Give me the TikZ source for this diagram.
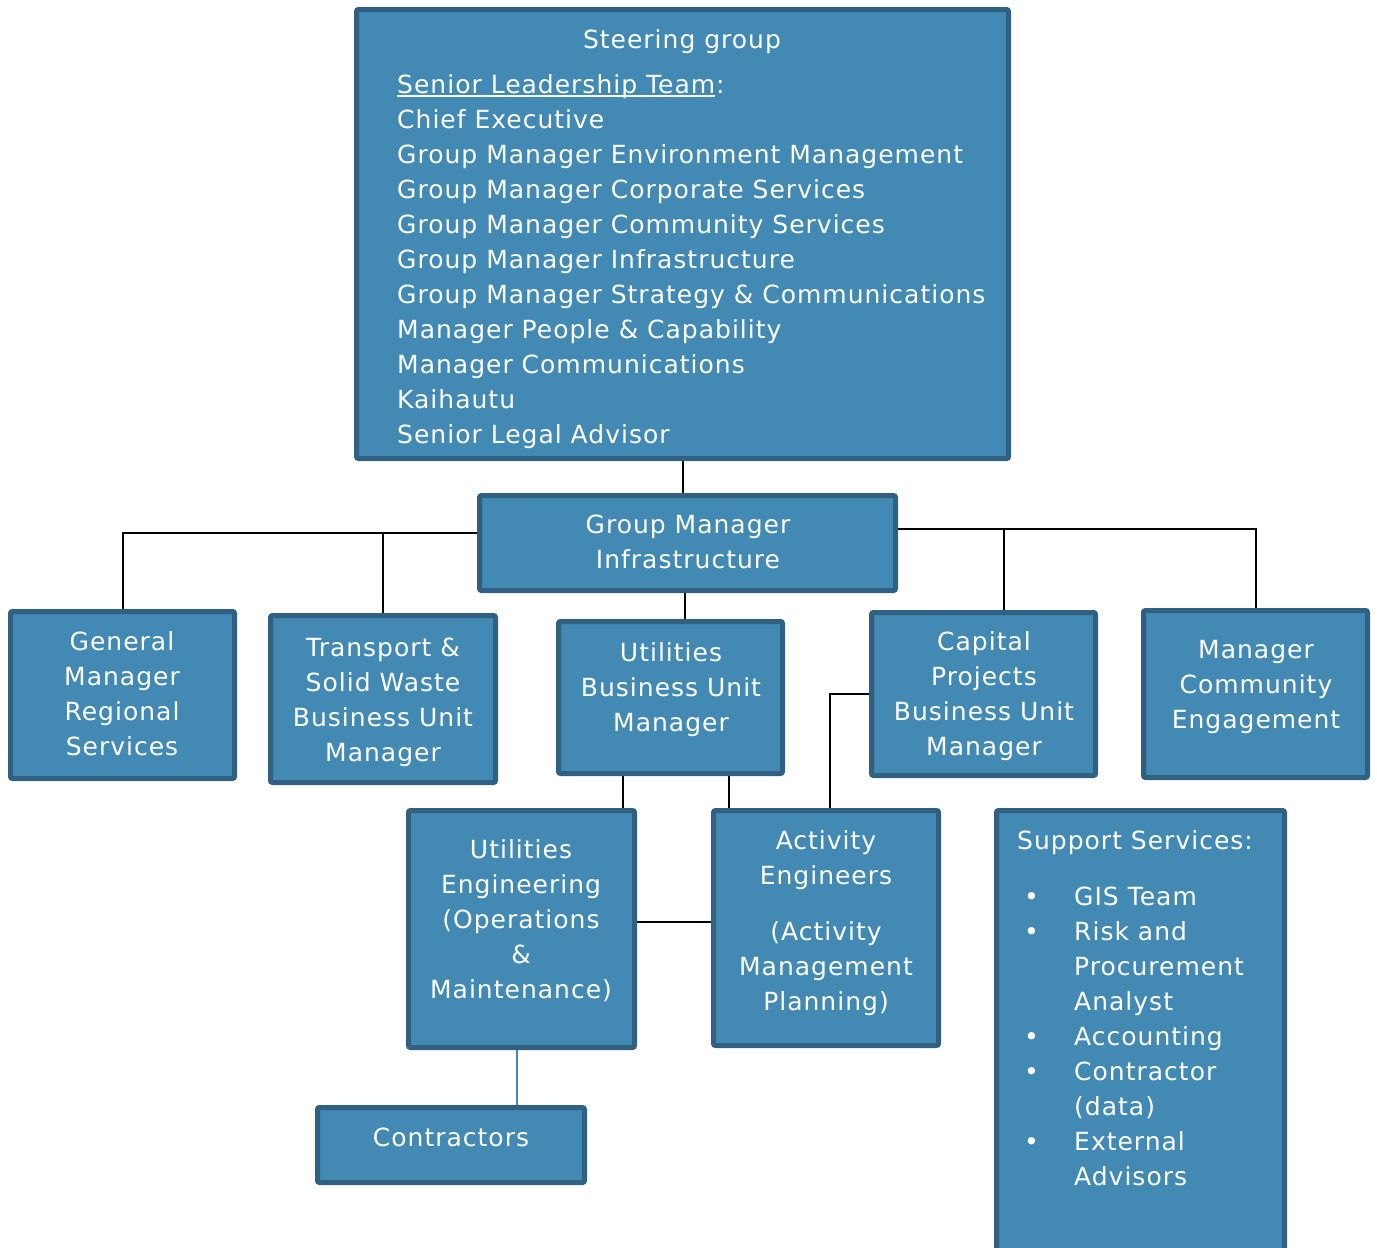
\documentclass[tikz,border=0pt]{standalone}
\usepackage{fontspec}
\setmainfont{DejaVu Sans}[LetterSpace=4]
\usetikzlibrary{calc}
\definecolor{boxfill}{RGB}{66,137,180}
\definecolor{boxline}{RGB}{49,97,130}
\newcommand{\bitem}[1]{\strut\makebox[50pt][l]{•}#1}
\newcommand{\bcont}[1]{\strut\hspace*{50pt}#1}
\newlength{\ulw}
\newcommand{\myul}[1]{\settowidth{\ulw}{#1}\rlap{\rule[-4pt]{\ulw}{2pt}}#1}
\begin{document}
\begin{tikzpicture}[x=1pt,y=-1pt,
  box/.style={draw=boxline, fill=boxfill, line width=5pt, rounded corners=2pt, inner sep=0pt},
  txt/.style={text=white, inner sep=0pt, font=\fontsize{25}{35}\selectfont},
  conn/.style={draw=black, line width=2pt}]
\clip (0,0) rectangle (1377,1248);
\fill[white] (0,0) rectangle (1377,1248);
% boxes
\node[box, minimum width=652pt, minimum height=449pt] (steer) at (682.5,234) {};
\node[box, minimum width=416pt, minimum height=95pt] (gmi) at (687.5,543) {};
\node[box, minimum width=224pt, minimum height=167pt] (gmrs) at (122.5,695) {};
\node[box, minimum width=225pt, minimum height=167pt] (trans) at (383,699) {};
\node[box, minimum width=224pt, minimum height=152pt] (ubum) at (670.5,697.5) {};
\node[box, minimum width=224pt, minimum height=163pt] (cap) at (983.5,694) {};
\node[box, minimum width=224pt, minimum height=167pt] (mce) at (1255.5,694) {};
\node[box, minimum width=226pt, minimum height=237pt] (ue) at (521.5,929) {};
\node[box, minimum width=225pt, minimum height=235pt] (ae) at (826,928) {};
\node[box, minimum width=288pt, minimum height=457pt] (sup) at (1140.5,1039) {};
\node[box, minimum width=267pt, minimum height=75pt] (contr) at (451,1145) {};
% texts
\node[txt] (steert) at (682,41) {\strut Steering group};
\node[txt, align=left, anchor=north west] (slt) at (397,68.5) {%
\strut\myul{Senior Leadership Team}:\\
\strut Chief Executive\\
\strut Group Manager Environment Management\\
\strut Group Manager Corporate Services\\
\strut Group Manager Community Services\\
\strut Group Manager Infrastructure\\
\strut Group Manager Strategy \& Communications\\
\strut Manager People \& Capability\\
\strut Manager Communications\\
\strut Kaihautu\\
\strut Senior Legal Advisor};
\node[txt, align=center] (gmit) at (688,543.5) {\strut Group Manager\\\strut Infrastructure};
\node[txt, align=center] (gmrst) at (122,695.5) {\strut General\\\strut Manager\\\strut Regional\\\strut Services};
\node[txt, align=center] (transt) at (383,701.5) {\strut Transport \&\\\strut Solid Waste\\\strut Business Unit\\\strut Manager};
\node[txt, align=center] (ubumt) at (671,689.5) {\strut Utilities\\\strut Business Unit\\\strut Manager};
\node[txt, align=center] (capt) at (984,695.5) {\strut Capital\\\strut Projects\\\strut Business Unit\\\strut Manager};
\node[txt, align=center] (mcet) at (1256,686) {\strut Manager\\\strut Community\\\strut Engagement};
\node[txt, align=center] (uet) at (521,921) {\strut Utilities\\\strut Engineering\\\strut (Operations\\\strut \&\\\strut Maintenance)};
\node[txt, align=center] (aet) at (826,922.5) {\strut Activity\\\strut Engineers\\[21pt]\strut (Activity\\\strut Management\\\strut Planning)};
\node[txt, anchor=north west] (supt) at (1017,824.5) {\strut Support Services:};
\node[txt, align=left, anchor=north west] (supl) at (1024,880.5) {%
\bitem{GIS Team}\\
\bitem{Risk and}\\
\bcont{Procurement}\\
\bcont{Analyst}\\
\bitem{Accounting}\\
\bitem{Contractor}\\
\bcont{(data)}\\
\bitem{External}\\
\bcont{Advisors}};
\node[txt] (contrt) at (451,1139) {\strut Contractors};
% connectors
\draw[conn] (steer.south) -- (steer.south |- gmi.north);
\coordinate (gl) at ([yshift=10pt]gmi.west);
\coordinate (gr) at ([yshift=14pt]gmi.east);
\draw[conn] (gl) -| (gmrs.north);
\draw[conn] (trans.north) -- (trans.north |- gl);
\draw[conn] (gr) -| (mce.north);
\coordinate (capc) at ([xshift=20pt]cap.north);
\draw[conn] (capc) -- (capc |- gr);
\coordinate (gmib) at ([xshift=-2.5pt]gmi.south);
\draw[conn] (gmib) -- (gmib |- ubum.north);
\coordinate (ub1) at ([xshift=-47.5pt]ubum.south);
\coordinate (ub2) at ([xshift=58.5pt]ubum.south);
\draw[conn] (ub1) -- (ub1 |- ue.north);
\draw[conn] (ub2) -- (ub2 |- ae.north);
\coordinate (aetop) at ([xshift=4pt]ae.north);
\draw[conn] (cap.west) -| (aetop);
\coordinate (uer) at ([yshift=7pt]ue.east);
\draw[conn] (uer) -- (uer -| ae.west);
\coordinate (ueb) at ([xshift=-4.5pt]ue.south);
\draw[draw=boxfill, line width=1.5pt] (ueb) -- (ueb |- contr.north);
\end{tikzpicture}
\end{document}
